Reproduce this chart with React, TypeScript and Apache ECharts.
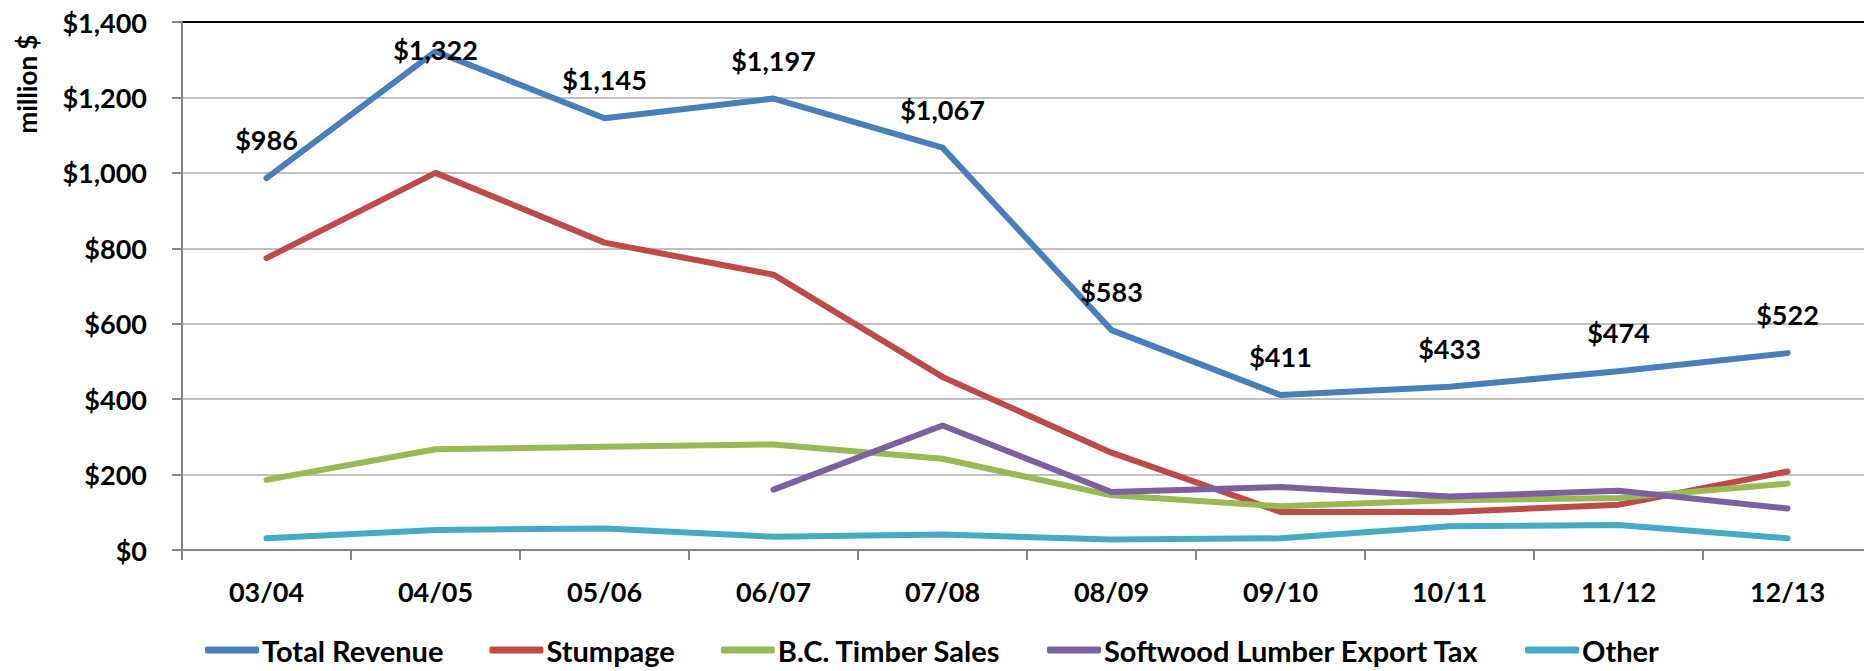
import React, { useEffect, useRef } from "react";
import * as echarts from "echarts";

const categories = ["03/04", "04/05", "05/06", "06/07", "07/08", "08/09", "09/10", "10/11", "11/12", "12/13"];
const totalRevenue = [986, 1322, 1145, 1197, 1067, 583, 411, 433, 474, 522];
const stumpage = [774, 1000, 815, 730, 459, 258, 101, 101, 120, 208];
const timberSales = [186, 267, 274, 280, 242, 145, 116, 132, 138, 176];
const softwoodTax = [null, null, null, 160, 330, 154, 167, 142, 157, 110];
const other = [31, 53, 57, 35, 41, 28, 31, 63, 66, 31];
const seriesNames = ["Total Revenue", "Stumpage", "B.C. Timber Sales", "Softwood Lumber Export Tax", "Other"];
const colors = ["#4A7EBB", "#BE4B48", "#98B954", "#7D60A0", "#46AAC5"];

const FONT = "Lato, 'Open Sans', sans-serif";

const fmt = (v: number) => "$" + v.toLocaleString("en-US");

export default function App() {
  const ref = useRef<HTMLDivElement>(null);
  useEffect(() => {
    document.body.style.margin = "0";
    const chart = echarts.init(ref.current!, null, { renderer: "svg" });
    const lineSeries = (name: string, data: any[], color: string, extra: any = {}) => ({
      name,
      type: "line",
      data,
      showSymbol: false,
      symbol: "none",
      lineStyle: { color, width: 6, cap: "round", join: "round" },
      itemStyle: { color },
      connectNulls: false,
      ...extra,
    });
    const totalData = totalRevenue.map((v, i) =>
      i === 1 ? { value: v, label: { offset: [0, 37] } } : v
    );
    chart.setOption({
      animation: false,
      color: colors,
      grid: {
        left: 182,
        top: 22,
        width: 1690,
        height: 528,
        containLabel: false,
        outerBoundsMode: "none",
      },
      legend: {
        data: seriesNames,
        top: 634,
        left: "center",
        itemWidth: 54,
        itemHeight: 7,
        itemGap: 46,
        icon: "roundRect",
        padding: 0,
        textStyle: {
          fontFamily: FONT,
          fontWeight: "bold",
          fontSize: 29,
          lineHeight: 32,
          color: "#000",
          padding: [0, 0, 0, -2],
        },
      },
      xAxis: {
        type: "category",
        data: categories,
        boundaryGap: true,
        axisLine: { lineStyle: { color: "#868686", width: 2 } },
        axisTick: { show: true, length: 10, lineStyle: { color: "#868686", width: 2 } },
        axisLabel: { fontFamily: FONT, fontWeight: "bold", fontSize: 27, color: "#000", margin: 26, lineHeight: 30 },
        splitLine: { show: false },
      },
      yAxis: {
        type: "value",
        min: 0,
        max: 1400,
        interval: 200,
        axisLine: { show: true, lineStyle: { color: "#868686", width: 2 } },
        axisTick: { show: true, length: 10, lineStyle: { color: "#868686", width: 2 } },
        axisLabel: {
          fontFamily: FONT,
          fontWeight: "bold",
          fontSize: 27,
          color: "#000",
          margin: 35,
          formatter: (v: number) => fmt(v),
        },
        splitLine: {
          show: true,
          lineStyle: {
            color: ["#BFBFBF", "#BFBFBF", "#BFBFBF", "#BFBFBF", "#BFBFBF", "#BFBFBF", "#BFBFBF", "#000000"],
            width: 2,
          },
        },
      },
      graphic: [
        {
          type: "text",
          x: 27,
          y: 84,
          rotation: Math.PI / 2,
          style: {
            text: "million $",
            font: `bold 26px ${FONT}`,
            fill: "#000",
            align: "center",
            verticalAlign: "middle",
          },
        },
      ],
      series: [
        lineSeries(seriesNames[0], totalData, colors[0], {
          z: 5,
          showSymbol: true,
          symbol: "circle",
          symbolSize: 2,
          label: {
            show: true,
            position: "top",
            distance: 24,
            fontFamily: FONT,
            fontWeight: "bold",
            fontSize: 27,
            lineHeight: 27,
            color: "#000",
            formatter: (p: any) => fmt(p.value),
          },
        }),
        lineSeries(seriesNames[1], stumpage, colors[1]),
        lineSeries(seriesNames[2], timberSales, colors[2]),
        lineSeries(seriesNames[3], softwoodTax, colors[3]),
        lineSeries(seriesNames[4], other, colors[4]),
      ],
    });
    return () => chart.dispose();
  }, []);
  return <div ref={ref} style={{ width: 1864, height: 671 }} />;
}
